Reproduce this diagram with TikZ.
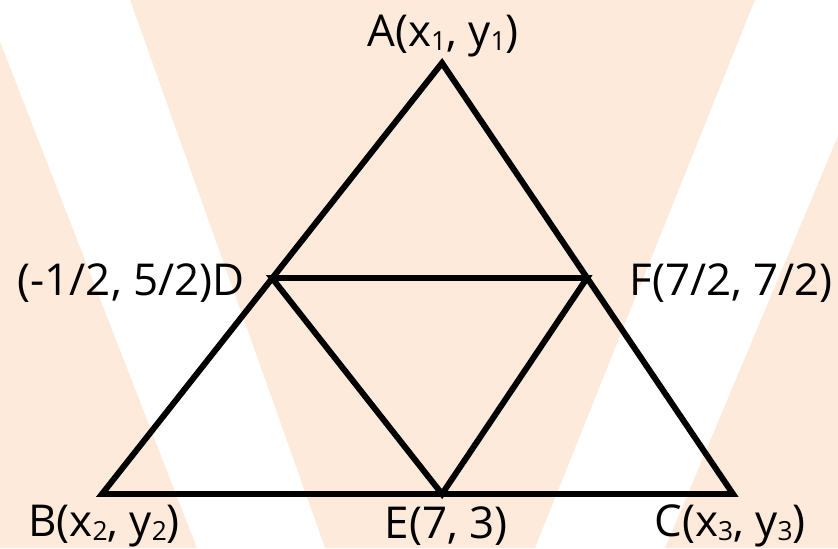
\documentclass[tikz,border=0pt]{standalone}
\usepackage{fontspec}
\setmainfont{Open Sans}
\usepackage{xcolor}
\usepackage{tikz}
\usetikzlibrary{positioning}

\definecolor{peach}{RGB}{253,234,218}
\newcommand{\vsub}[1]{\raisebox{-0.2ex}{\fontsize{15}{18}\selectfont #1}}

\begin{document}
\begin{tikzpicture}[
    x=0.02cm, y=-0.02cm,
    edge/.style={draw=black, line width=3.4pt, line join=miter},
    vlabel/.style={inner sep=0pt, font=\fontsize{25}{30}\selectfont}
]
    \useasboundingbox (0,0) rectangle (838,548);

    % Background
    \begin{scope}
        \clip (0,0) rectangle (838,548);
        \fill[peach] (0,0) rectangle (838,548);
        \fill[white] (-16,0) -- (130,0) -- (325,548) -- (197,548) -- cycle;
        \fill[white] (755,0) -- (895,0) -- (665,548) -- (535,548) -- cycle;
    \end{scope}

    % Vertices
    \coordinate (A) at (442,63);
    \coordinate (B) at (102,494);
    \coordinate (C) at (733,494);
    \coordinate (D) at (272,278);
    \coordinate (E) at (442,494);
    \coordinate (F) at (587,278);

    % Triangles
    \draw[edge] (A) -- (B) -- (C) -- cycle;
    \draw[edge] (D) -- (F) -- (E) -- cycle;

    % Labels
    \node[vlabel, anchor=base] (lA) at (443,46) {A(x\vsub{1}, y\vsub{1})};
    \node[vlabel, anchor=base east] (lD) at (245,295) {(-1/2, 5/2)D};
    \node[vlabel, anchor=base west] (lF) at (629,295) {F(7/2, 7/2)};
    \node[vlabel, anchor=base] (lB) at (104,536) {B(x\vsub{2}, y\vsub{2})};
    \node[vlabel, anchor=base] (lE) at (446,538) {E(7, 3)};
    \node[vlabel, anchor=base] (lC) at (730,536) {C(x\vsub{3}, y\vsub{3})};

\end{tikzpicture}
\end{document}
